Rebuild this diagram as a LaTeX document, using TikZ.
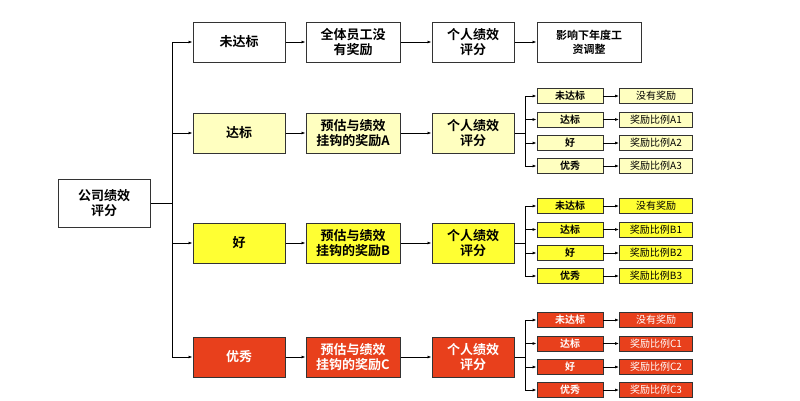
\documentclass[tikz,border=0pt]{standalone}
\usepackage{fontspec}
\newfontfamily\cjk{Noto Sans CJK SC}[BoldFont={Noto Sans CJK SC Bold}]
\usetikzlibrary{arrows.meta}
\definecolor{lyel}{HTML}{FFFFC0}
\definecolor{byel}{HTML}{FFFF33}
\definecolor{ored}{HTML}{E8401C}
\begin{document}
\begin{tikzpicture}[x=1pt,y=-1pt,
 box/.style={draw=black!80,line width=1pt,minimum height=40pt,align=center,font=\cjk\bfseries\fontsize{13}{15}\selectfont,inner sep=1pt},
 sbox/.style={draw=black!80,line width=0.8pt,minimum height=15pt,minimum width=66pt,font=\cjk\bfseries\fontsize{10}{11}\selectfont,inner sep=0pt},
 rbox/.style={sbox,minimum width=73pt,font=\cjk\fontsize{10}{11}\selectfont},
 arr/.style={-{Latex[length=4pt,width=3pt]},line width=0.8pt},
 ln/.style={line width=0.8pt}]
\useasboundingbox (0,0) rectangle (800,400);
\fill[white] (0,0) rectangle (800,400);
\node[box,minimum width=92pt,minimum height=48pt] (root) at (104,203) {公司绩效\\评分};
\coordinate (t) at (172,203);
% level 1
\node[box,minimum width=92pt] (a0) at (239,42) {未达标};
\node[box,minimum width=92pt,fill=lyel] (a1) at (239,133) {达标};
\node[box,minimum width=92pt,fill=byel] (a2) at (239,243) {好};
\node[box,minimum width=92pt,fill=ored,text=white] (a3) at (239,357) {优秀};
\draw[ln] (root) -- (t);
\draw[ln] (a0.west -| t) -- (a3.west -| t);
\foreach \i in {0,...,3}{\draw[arr] (a\i.west -| t) -- (a\i);}
% level 2
\node[box,minimum width=94pt] (b0) at (353,42) {全体员工没\\有奖励};
\node[box,minimum width=94pt,fill=lyel] (b1) at (353,133) {预估与绩效\\挂钩的奖励A};
\node[box,minimum width=94pt,fill=byel] (b2) at (353,243) {预估与绩效\\挂钩的奖励B};
\node[box,minimum width=94pt,fill=ored,text=white] (b3) at (353,357) {预估与绩效\\挂钩的奖励C};
% level 3
\node[box,minimum width=82pt] (c0) at (473,42) {个人绩效\\评分};
\node[box,minimum width=82pt,fill=lyel] (c1) at (473,133) {个人绩效\\评分};
\node[box,minimum width=82pt,fill=byel] (c2) at (473,243) {个人绩效\\评分};
\node[box,minimum width=82pt,fill=ored,text=white] (c3) at (473,357) {个人绩效\\评分};
\foreach \i in {0,...,3}{\draw[arr] (a\i) -- (b\i); \draw[arr] (b\i) -- (c\i);}
\node[box,minimum width=104pt,font=\cjk\bfseries\fontsize{11}{14}\selectfont] (d0) at (589,42) {影响下年度工\\资调整};
\draw[arr] (c0) -- (d0);
% small boxes
\def\grp#1#2#3#4#5{%
 \coordinate (br#1) at (525,#2);
 \draw[ln] (c#1.east) -- (br#1);
 \foreach \lab/\res/\k/\yy in {未达标/没有奖励/0/0,达标/奖励比例#31/1/23.5,好/奖励比例#32/2/47,优秀/奖励比例#33/3/70}{
   \node[sbox,fill=#4,text=#5] (s#1\k) at (570,#2-37+\yy) {\lab};
   \node[rbox,fill=#4,text=#5] (r#1\k) at (656,#2-37+\yy) {\res};
   \draw[arr] (s#1\k.west -| br#1) -- (s#1\k);
   \draw[arr] (s#1\k) -- (r#1\k);
 }
 \draw[ln] (s#10.west -| br#1) -- (s#13.west -| br#1);
}
\grp{1}{133}{A}{lyel}{black}
\grp{2}{243}{B}{byel}{black}
\grp{3}{357}{C}{ored}{white}
\end{tikzpicture}
\end{document}
